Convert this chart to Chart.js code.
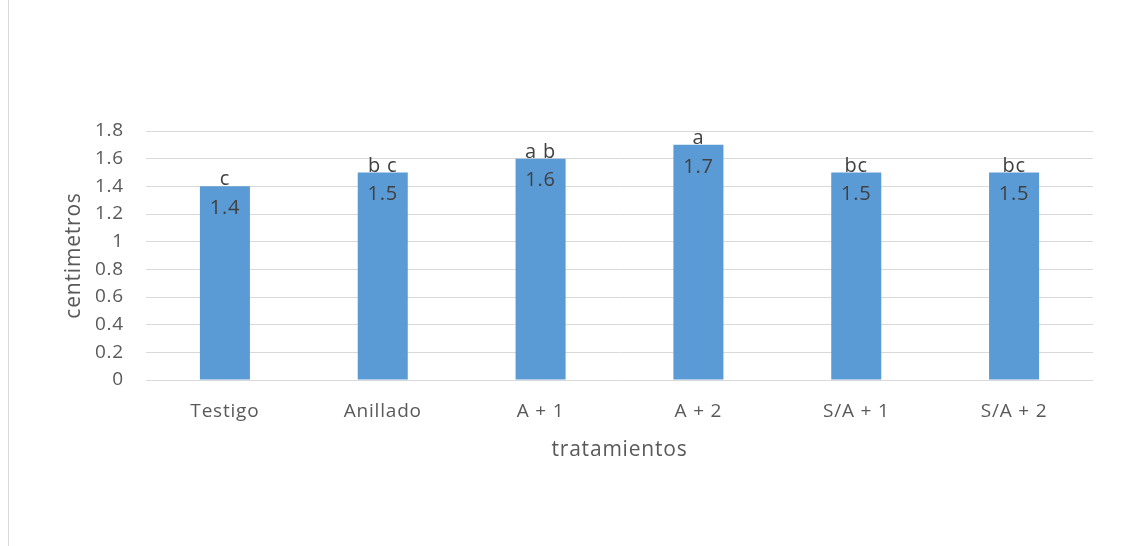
<!DOCTYPE html>
<html>
<head>
<meta charset="utf-8">
<script src="https://cdn.jsdelivr.net/npm/chart.js"></script>
<style>
  html, body { margin: 0; padding: 0; background: #fff; }
  #wrap { width: 1123px; height: 546px; position: relative; }
</style>
</head>
<body>
<div id="wrap"><canvas id="barChart" width="1123" height="546"></canvas></div>
<script>
  const tratamientos = ["Testigo", "Anillado", "A + 1", "A + 2", "S/A + 1", "S/A + 2"];
  const centimetros = [1.4, 1.5, 1.6, 1.7, 1.5, 1.5];
  const letras = ["c", "b c", "a b", "a", "bc", "bc"];
  const yTicks = [0, 0.2, 0.4, 0.6, 0.8, 1, 1.2, 1.4, 1.6, 1.8];

  const FONT = "'Open Sans', Lato, sans-serif";

  // value inside the bar top + letter group above it
  const barLabels = {
    id: "barLabels",
    afterDatasetsDraw(chart) {
      const ctx = chart.ctx;
      const bars = chart.getDatasetMeta(0).data;
      ctx.save();
      ctx.fillStyle = "#404040";
      ctx.textAlign = "center";
      ctx.font = "20px " + FONT;
      bars.forEach((bar, i) => {
        ctx.textBaseline = "middle";
        ctx.fillText(String(centimetros[i]), bar.x, bar.y + 22);
        ctx.textBaseline = "alphabetic";
        ctx.fillText(letras[i], bar.x, bar.y - 1);
      });
      ctx.restore();
    },
  };

  // thin outer border on the left like the original frame, plus wider text spacing
  const frame = {
    id: "frame",
    beforeDraw(chart) {
      const ctx = chart.ctx;
      ctx.strokeStyle = "#d9d9d9";
      ctx.lineWidth = 1;
      ctx.beginPath();
      ctx.moveTo(8.5, 0);
      ctx.lineTo(8.5, 546);
      ctx.stroke();
      ctx.letterSpacing = "0.8px";
    },
  };

  new Chart(document.getElementById("barChart"), {
    type: "bar",
    data: {
      labels: tratamientos,
      datasets: [
        {
          data: centimetros,
          backgroundColor: "#5b9bd5",
          categoryPercentage: 1,
          barPercentage: 0.317,
        },
      ],
    },
    options: {
      responsive: false,
      animation: false,
      layout: { padding: { left: 57, top: 131, right: 30, bottom: 79 } },
      plugins: { legend: { display: false }, tooltip: { enabled: false } },
      scales: {
        x: {
          grid: { display: false, drawTicks: false },
          border: { display: false },
          ticks: { color: "#595959", font: { family: FONT, size: 19 }, padding: 20 },
          title: {
            display: true,
            text: "tratamientos",
            color: "#595959",
            font: { family: FONT, size: 21 },
            padding: { top: 4, bottom: 4 },
          },
          afterFit: (s) => { s.height = 87; },
        },
        y: {
          min: 0,
          max: 1.8,
          afterBuildTicks: (s) => { s.ticks = yTicks.map((v) => ({ value: v })); },
          grid: { color: "#d9d9d9", drawTicks: false },
          border: { display: false },
          ticks: {
            color: "#595959",
            font: { family: FONT, size: 19 },
            padding: 22,
            callback: (v) => String(v),
          },
          title: {
            display: true,
            text: "centimetros",
            color: "#595959",
            font: { family: FONT, size: 21 },
            padding: { top: 4, bottom: 4 },
          },
          afterFit: (s) => { s.width = 89; },
        },
      },
    },
    plugins: [frame, barLabels],
  });
</script>
</body>
</html>
